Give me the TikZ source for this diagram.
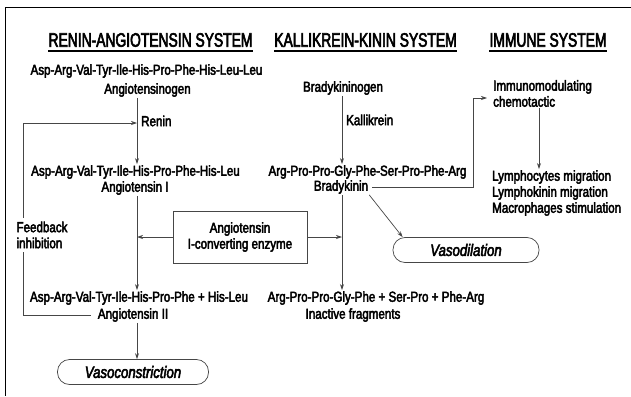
\documentclass[tikz,border=0pt]{standalone}
\usepackage{fontspec}
\setmainfont{Liberation Sans}[FakeStretch=0.8,FakeBold=3]
\newfontfamily\headfont{Liberation Sans}[FakeStretch=0.71,FakeBold=3]
\usepackage{tikz}
\usetikzlibrary{arrows.meta,shapes,positioning}
\usepackage{xcolor}
\definecolor{lnkgray}{RGB}{70,70,70}
\tikzstyle{arrow} = [-{Stealth[length=6pt,width=4pt]},color=lnkgray,line width=0.7pt]
\tikzstyle{link} = [color=lnkgray,line width=0.7pt]
\tikzstyle{txt} = [inner sep=1pt,font=\fontsize{14.5}{16}\selectfont]
\tikzstyle{head} = [inner sep=0pt,font=\headfont\fontsize{19.5}{22}\selectfont]
\tikzstyle{pill} = [draw=lnkgray,line width=0.7pt,rounded corners=12pt,minimum height=25pt,font=\itshape\fontsize{16.5}{18}\selectfont]
\tikzstyle{enzbox} = [txt,draw=lnkgray,line width=0.7pt,align=center,minimum width=134pt,minimum height=52pt]

\begin{document}
\begin{tikzpicture}[x=1pt,y=-1pt]
\useasboundingbox (0,0) rectangle (631,396);
% Frame
\draw[line width=0.8pt] (631,7) -- (5,7) -- (5,396);

% Headers
\node[head] (hras) at (150.5,40) {RENIN-ANGIOTENSIN SYSTEM};
\node[head] (hkks) at (365.5,40) {KALLIKREIN-KININ SYSTEM};
\node[head] (himm) at (548,40) {IMMUNE SYSTEM};
\foreach \h in {hras,hkks,himm}
  \draw[line width=1.6pt] ([yshift=-4pt]\h.south west) -- ([yshift=-4pt]\h.south east);

% Renin-angiotensin column
\coordinate (reninpt) at (137,123);
\coordinate (fbtop) at (23,123);
\node[txt] (agseq) at (146.5,71) {Asp-Arg-Val-Tyr-Ile-His-Pro-Phe-His-Leu-Leu};
\node[txt] (agen) at (147.5,90) {Angiotensinogen};
\node[txt,anchor=west] (renin) at (140,121) {Renin};
\node[txt] (a1seq) at (135.5,172) {Asp-Arg-Val-Tyr-Ile-His-Pro-Phe-His-Leu};
\node[txt] (a1) at (135,188) {Angiotensin I};
\node[txt] (a2seq) at (139,298) {Asp-Arg-Val-Tyr-Ile-His-Pro-Phe + His-Leu};
\node[txt] (a2) at (133,315) {Angiotensin II};
\node[pill,minimum width=151pt] (vc) at (133,372) {Vasoconstriction};
\draw[arrow] (agen.south -| reninpt) -- (a1seq.north -| reninpt);
\draw[arrow] (a1.south -| reninpt) -- (a2seq.north -| reninpt);
\draw[arrow] (a2.south -| reninpt) -- (vc.north -| reninpt);

% Feedback loop
\draw[arrow] ([xshift=-6pt]a2.west) -| (fbtop) -- (reninpt);
\node[txt,fill=white,align=left,inner sep=4pt] (fb) at (42,235) {Feedback\\inhibition};

% Converting enzyme
\coordinate (kkpt) at (342,120);
\node[enzbox] (ace) at (240,237) {Angiotensin\\I-converting enzyme};
\draw[arrow] (ace.west) -- (ace.west -| reninpt);
\draw[arrow] (ace.east) -- (ace.east -| kkpt);

% Kallikrein-kinin column
\node[txt] (bkgen) at (343,88) {Bradykininogen};
\node[txt,anchor=west] (kal) at (345,120) {Kallikrein};
\node[txt] (bkseq) at (367.5,172) {Arg-Pro-Pro-Gly-Phe-Ser-Pro-Phe-Arg};
\node[txt] (bk) at (341,187) {Bradykinin};
\node[txt] (frseq) at (376,298) {Arg-Pro-Pro-Gly-Phe + Ser-Pro + Phe-Arg};
\node[txt] (frag) at (353,315) {Inactive fragments};
\node[pill,minimum width=146pt] (vd) at (466,250) {Vasodilation};
\draw[arrow] (bkgen.south -| kkpt) -- (bkseq.north -| kkpt);
\draw[arrow] (bk.south -| kkpt) -- (frseq.north -| kkpt);
\draw[arrow] (bk.south east) -- ([xshift=10pt]vd.north west);

% Immune column
\coordinate (immturn) at (473,98);
\coordinate (immx) at (539,0);
\node[txt,anchor=west,align=left] (imm) at (492,93.5) {Immunomodulating\\chemotactic};
\node[txt,anchor=west,align=left] (lym) at (491,193) {Lymphocytes migration\\Lymphokinin migration\\Macrophages stimulation};
\draw[arrow] ([xshift=3pt]bk.east) -| (immturn) -- ([xshift=-5pt]imm.west |- immturn);
\draw[arrow] (imm.south -| immx) -- (lym.north -| immx);
\end{tikzpicture}
\end{document}
